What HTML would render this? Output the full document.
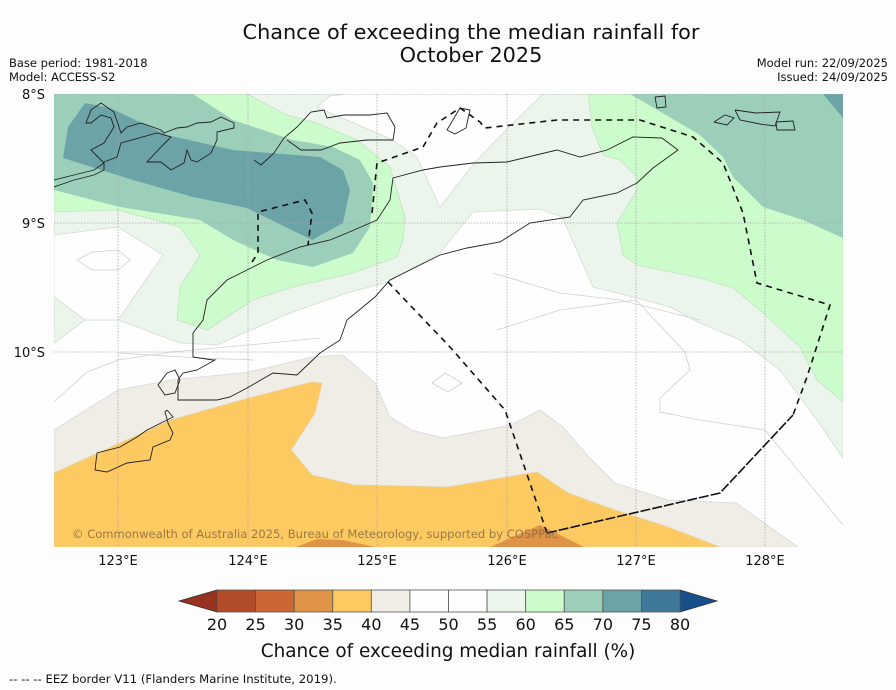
<!DOCTYPE html>
<html><head><meta charset="utf-8"><style>
html,body{margin:0;padding:0;background:#fdfdfd;}
svg{display:block;font-family:"DejaVu Sans","Liberation Sans",sans-serif;}
</style></head><body>
<svg id="fig" width="896" height="690" viewBox="0 0 896 690">
<rect x="0" y="0" width="896" height="690" fill="#fdfdfd"/>
<text x="471" y="39" font-size="20.8" text-anchor="middle" fill="#111">Chance of exceeding the median rainfall for</text>
<text x="471" y="62" font-size="20.8" text-anchor="middle" fill="#111">October 2025</text>
<text x="9" y="67" font-size="11.5" fill="#111">Base period: 1981-2018</text>
<text x="9" y="81" font-size="11.5" fill="#111">Model: ACCESS-S2</text>
<text x="888" y="67" font-size="11.5" fill="#111" text-anchor="end">Model run: 22/09/2025</text>
<text x="888" y="81" font-size="11.5" fill="#111" text-anchor="end">Issued: 24/09/2025</text>

<g id="map">
<clipPath id="mc"><rect x="54" y="94" width="789" height="453"/></clipPath>
<g clip-path="url(#mc)">
<rect x="54" y="94" width="789" height="453" fill="#fefefe"/>
<polygon fill="#ebf5eb" stroke="#d4dcd4" stroke-width="0.8" points="54,94 843,94 843,458 817,420 780,370 740,340 700,323 670,307 637,298 593,287 562,217 540,209 473,212 440,253 388,282 347,293 290,313 217,345 180,343 118,320 85,320 54,343"/>
<polygon fill="#fefefe" stroke="#d4dcd4" stroke-width="0.8" points="347,94 543,94 513,123 475,162 440,207 417,157 393,140 317,107 330,96"/>
<polygon fill="#fefefe" stroke="#d4dcd4" stroke-width="0.8" points="54,235 118,227 163,255 118,320 85,320 54,297"/>
<polygon fill="#ccfccc" stroke="#c6e0c6" stroke-width="0.8" points="54,94 247,94 287,115 317,123 357,140 390,167 405,217 403,240 397,257 353,273 293,287 253,300 207,330 177,320 180,287 200,255 180,227 118,210 54,212"/>
<polygon fill="#9ccfba" points="54,94 193,94 233,120 293,140 333,147 360,160 373,183 370,227 353,253 313,267 277,260 233,240 200,220 120,207 54,190"/>
<polygon fill="#6ca3a6" points="85,103 110,108 167,135 233,150 320,157 343,170 350,190 343,223 312,240 247,208 193,197 133,180 63,158 68,127"/>
<polygon fill="#ccfccc" stroke="#c6e0c6" stroke-width="0.8" points="588,94 843,94 843,402 817,380 800,347 763,313 733,288 700,278 637,265 623,255 617,223 637,190 637,177 620,160 603,155 592,127"/>
<polygon fill="#9ccfba" points="630,94 843,94 843,238 803,220 763,207 733,177 723,157 700,135"/>
<polygon fill="#6ca3a6" points="823,94 843,94 843,118"/>
<polygon fill="#f0ece6" stroke="#d8d8d8" stroke-width="0.8" points="54,430 118,390 171,380 249,372 312,357 343,355 375,383 390,417 411,430 443,438 511,425 540,410 563,427 589,457 615,483 668,500 736,503 798,547 54,547"/>
<polygon fill="#fdca62" stroke="#e6d0a0" stroke-width="0.8" points="54,473 118,444 171,420 249,398 312,382 322,383 315,413 291,450 312,475 354,485 448,487 537,472 568,493 615,510 668,527 720,547 54,547"/>
<polygon fill="#e09448" points="296,547 317,539 343,540 375,547"/>
<polygon fill="#e09448" points="490,547 540,525 584,547"/>
<g fill="none" stroke="#d0d0d0" stroke-width="0.8">
<polyline points="77,260 92,252 118,250 130,260 118,270 92,270 77,260"/>
<polyline points="54,402 87,372 118,360 171,352 249,345 320,338"/>
<polyline points="118,353 200,358 254,360"/>
<polyline points="432,383 445,373 462,383 448,392 432,383"/>
<polyline points="497,330 560,310 636,300 685,352 690,370 660,398 660,412 700,420 765,430 843,525"/>
<polyline points="493,273 560,293 620,300 700,320"/>
</g>
<g fill="none" stroke="#a8a8a8" stroke-width="0.8" stroke-dasharray="1.5,1.5">
<line x1="118" y1="94" x2="118" y2="547"/><line x1="248" y1="94" x2="248" y2="547"/><line x1="377" y1="94" x2="377" y2="547"/><line x1="507" y1="94" x2="507" y2="547"/><line x1="636" y1="94" x2="636" y2="547"/><line x1="765" y1="94" x2="765" y2="547"/>
<line x1="54" y1="94" x2="843" y2="94"/><line x1="54" y1="223" x2="843" y2="223"/><line x1="54" y1="352" x2="843" y2="352"/>
</g>
<g fill="none" stroke="#222" stroke-width="0.9">
<polyline points="54,180 74,175 94,170 104,163 94,153 91,150 104,143 114,127 111,118 101,115 91,123 86,123 91,110 101,103 114,112 121,133 127,127 141,123 161,130 164,133 177,128 187,127 197,123 211,122 221,117 234,123 234,128 217,132 217,140 211,153 197,162 191,160 187,150 184,163 171,170 161,162 147,162 161,147 171,137 157,133 121,143 117,157 104,162 104,170 94,175 74,180 54,187"/>
<polyline points="254,160 261,165 274,153 284,138 297,127 311,112 324,110 327,118 344,115 370,115 387,113 395,127 393,140 367,140 340,143 321,150 301,150 287,140"/>
<polyline points="460,108 470,110 466,128 455,134 447,130 460,108"/>
<polyline points="678,150 662,138 633,137 607,150 580,157 557,150 507,162 473,163 440,167 423,170 393,178 390,200 377,220 347,233 330,240 300,247 267,260 247,270 227,280 207,300 203,320 193,333 193,357 213,360 215,360 197,370 183,373 178,380 178,400 197,400 217,400 230,397 247,388 273,373 297,375 320,353 340,340 347,320 375,297 390,280 440,255 467,248 500,242 530,223 570,217 583,200 617,193 637,183 653,168 678,150"/>
<polyline points="167,373 175,370 180,380 175,393 165,395 158,385 167,373"/>
<polyline points="167,410 173,417 147,430 137,437 120,447 97,453 95,470 107,472 127,463 150,460 153,447 170,440 173,433 168,423 165,412 167,410"/>
<polyline points="655,97 665,96 666,107 657,108 655,97"/>
<polyline points="714,122 725,115 734,118 727,125 714,122"/>
<polyline points="735,110 756,113 780,112 775,126 760,124 740,120 735,110"/>
<polyline points="776,122 793,121 795,130 777,130 776,122"/>
</g>
<g fill="none" stroke="#111" stroke-width="1.6">
<polyline stroke-dasharray="6,5" points="252,262 258,253 258,212 305,200 312,213 308,245"/>
<polyline stroke-dasharray="6,5" points="372,213 377,163 423,147 437,123 460,108 480,122 485,128 557,120 640,120 693,137 723,163 743,213 757,283 830,305 807,377 793,415"/>
<polyline stroke-dasharray="6,5" points="388,282 450,347 505,410 547,533"/>
<polyline stroke-dasharray="10,2" points="547,533 720,493 793,415"/>
</g>
<text x="72" y="538" font-size="11.5" fill="#8a6a40" fill-opacity="0.85" textLength="486">© Commonwealth of Australia 2025, Bureau of Meteorology, supported by COSPPac</text>
</g>
</g>
<g font-size="13" fill="#111">
<text x="45" y="99" text-anchor="end">8°S</text>
<text x="45" y="228" text-anchor="end">9°S</text>
<text x="45" y="357" text-anchor="end">10°S</text>
</g>
<g font-size="13" fill="#111" text-anchor="middle">
<text x="118" y="565">123°E</text>
<text x="248" y="565">124°E</text>
<text x="377" y="565">125°E</text>
<text x="507" y="565">126°E</text>
<text x="636" y="565">127°E</text>
<text x="765" y="565">128°E</text>
</g>
<g id="cbar"></g>
<text x="448" y="657" font-size="18.4" text-anchor="middle" fill="#111">Chance of exceeding median rainfall (%)</text>
<text x="9" y="683" font-size="11.7" fill="#111">--  --  -- EEZ border V11 (Flanders Marine Institute, 2019).</text>
</svg>
<script>
var binEdges = [20,25,30,35,40,45,50,55,60,65,70,75,80];
var binColors = ["#b14b29","#cd6635","#e09448","#fdca62","#f0ece6","#fefefe","#fefefe","#ebf5eb","#ccfccc","#9ccfba","#6ca3a6","#3f7898"];
var tickLabels = ["20","25","30","35","40","45","50","55","60","65","70","75","80"];
var lowExtendColor = "#96321f";
var highExtendColor = "#164f8a";
var NS = "http://www.w3.org/2000/svg";
var cb = document.getElementById("cbar");
var x0 = 217, x1 = 680, yT = 590, yB = 612;
function xs(v){ return x0 + (v - binEdges[0]) * (x1 - x0) / (binEdges[binEdges.length-1] - binEdges[0]); }
function mk(tag, attrs){ var e = document.createElementNS(NS, tag); for (var k in attrs) e.setAttribute(k, attrs[k]); cb.appendChild(e); return e; }
var lt = mk("polygon", {points: (x0)+","+yT+" "+(x0-38)+","+((yT+yB)/2)+" "+x0+","+yB, fill: lowExtendColor, stroke:"#333", "stroke-width":"0.8"});


var rt = mk("polygon", {points: x1+","+yT+" "+(x1+37)+","+((yT+yB)/2)+" "+x1+","+yB, fill: highExtendColor, stroke:"#333", "stroke-width":"0.8"});


for (var i = 0; i < binColors.length; i++) {
  var a = xs(binEdges[i]), b = xs(binEdges[i+1]);
  var r = mk("rect", {x:a, y:yT, width:b-a, height:yB-yT, fill:binColors[i], stroke:"#555", "stroke-width":"0.8"});
  
  
}
for (var j = 0; j < tickLabels.length; j++) {
  var t = mk("text", {x: xs(binEdges[j]), y: 630, "font-size":"16", "text-anchor":"middle", fill:"#111"});
  t.textContent = tickLabels[j];
  
  
}
</script>
</body></html>
